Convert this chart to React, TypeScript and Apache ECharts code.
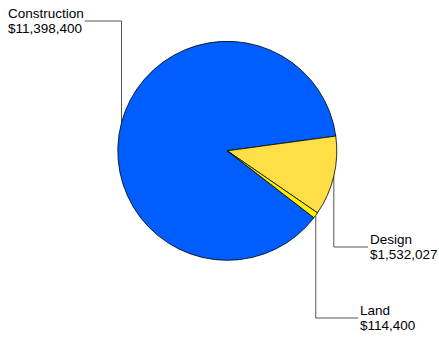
import React, { useEffect, useRef } from "react";
import * as echarts from "echarts";

const categories = ["Construction", "Design", "Land"];
const values = [11398400, 1532027, 114400];
const colors = ["#005EFF", "#FFDE46", "#FFF200"];

// label anchors (layout only): left x / middle y of each label block
const labelAnchors = [
  { x: 8, y: 21, side: "left" },
  { x: 370, y: 247, side: "right" },
  { x: 360, y: 318, side: "right" },
];

const fmt = (v: number) => "$" + v.toLocaleString("en-US");

export default function App() {
  const ref = useRef<HTMLDivElement>(null);
  useEffect(() => {
    const chart = echarts.init(ref.current!, null, { renderer: "svg" });
    const cx = 227.3;
    const cy = 150.8;
    const r = 109.5;
    const startAngle = 322.3;
    const total = values.reduce((a, b) => a + b, 0);
    // mid angle edge points computed from the data (clockwise)
    let acc = 0;
    const edgePts = values.map((v) => {
      const a0 = startAngle - (acc / total) * 360;
      acc += v;
      const a1 = startAngle - (acc / total) * 360;
      const mid = ((a0 + a1) / 2) * (Math.PI / 180);
      return [cx + r * Math.cos(mid), cy - r * Math.sin(mid)];
    });

    chart.setOption({
      animation: false,
      series: [
        {
          type: "pie",
          center: [cx, cy],
          radius: r,
          startAngle,
          clockwise: true,
          avoidLabelOverlap: false,
          emphasis: { disabled: true },
          itemStyle: { borderColor: "#000", borderWidth: 0.8 },
          data: categories.map((c, i) => ({
            name: c,
            value: values[i],
            itemStyle: { color: colors[i] },
          })),
          label: {
            show: true,
            position: "outside",
            formatter: (p: any) => p.name + "\n" + fmt(p.value),
            fontFamily: "Liberation Sans, Arial, sans-serif",
            fontSize: 13.5,
            lineHeight: 15,
            color: "#000",
            align: "left",
          },
          labelLine: {
            show: true,
            lineStyle: { color: "#555", width: 1 },
          },
          labelLayout: (params: any) => {
            const i = params.dataIndex;
            const a = labelAnchors[i];
            const e =
              params.labelLinePoints && params.labelLinePoints[0]
                ? params.labelLinePoints[0]
                : edgePts[i];
            const w = params.labelRect.width;
            const ex = edgePts[i][0];
            const ey = edgePts[i][1];
            const endX = a.side === "left" ? a.x + w + 1 : a.x - 2;
            return {
              x: a.x,
              y: a.y,
              align: "left",
              verticalAlign: "middle",
              labelLinePoints: [
                [ex, ey],
                [ex, a.y],
                [endX, a.y],
              ],
            };
          },
        },
      ],
    });
    return () => chart.dispose();
  }, []);
  return (
    <div
      ref={ref}
      style={{ position: "absolute", left: 0, top: 0, width: 439, height: 338 }}
    />
  );
}
